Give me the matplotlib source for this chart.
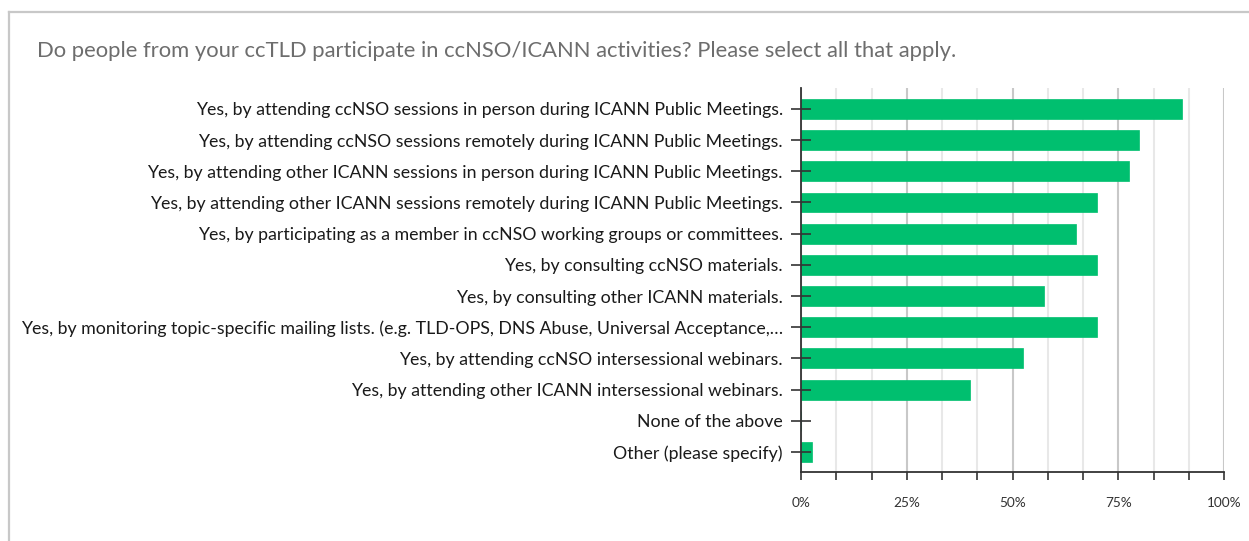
import matplotlib
matplotlib.use("Agg")
import matplotlib.pyplot as plt
from matplotlib.ticker import FixedLocator, PercentFormatter
from matplotlib.lines import Line2D

plt.rcParams['font.family'] = ['Lato', 'DejaVu Sans']

title = "Do people from your ccTLD participate in ccNSO/ICANN activities? Please select all that apply."
categories = [
    "Yes, by attending ccNSO sessions in person during ICANN Public Meetings.",
    "Yes, by attending ccNSO sessions remotely during ICANN Public Meetings.",
    "Yes, by attending other ICANN sessions in person during ICANN Public Meetings.",
    "Yes, by attending other ICANN sessions remotely during ICANN Public Meetings.",
    "Yes, by participating as a member in ccNSO working groups or committees.",
    "Yes, by consulting ccNSO materials.",
    "Yes, by consulting other ICANN materials.",
    "Yes, by monitoring topic-specific mailing lists. (e.g. TLD-OPS, DNS Abuse, Universal Acceptance,\u2026",
    "Yes, by attending ccNSO intersessional webinars.",
    "Yes, by attending other ICANN intersessional webinars.",
    "None of the above",
    "Other (please specify)",
]
values = [90.0, 80.0, 77.5, 70.0, 65.0, 70.0, 57.5, 70.0, 52.5, 40.0, 0.0, 2.5]
major_ticks = [0, 25, 50, 75, 100]
minor_ticks = [100 * i / 12 for i in range(13) if i % 3 != 0]

W, H = 1249, 541
fig = plt.figure(figsize=(W / 100, H / 100), dpi=100)

# border (top and left)
fig.add_artist(Line2D([9 / W, 1], [1 - 12 / H, 1 - 12 / H], color="#c8c8c8", lw=1.6, transform=fig.transFigure))
fig.add_artist(Line2D([9 / W, 9 / W], [0, 1 - 12 / H], color="#c8c8c8", lw=1.6, transform=fig.transFigure))

fig.text(37 / W, 1 - 51 / H, title, fontsize=15.8, color="#6d6d6d", va="center", ha="left")

left, right = 801 / W, 1224 / W
top, bottom = 1 - 88 / H, 1 - 472 / H
ax = fig.add_axes([left, bottom, right - left, top - bottom])

y = list(range(len(categories)))
ax.barh(y, values, height=0.64, color="#00BF6F", edgecolor="#00BF6F", linewidth=0.5, zorder=3)

ax.set_xlim(0, 100)
ax.set_ylim(len(categories) - 0.36, -0.67)
ax.set_yticks(y)
ax.set_yticklabels(categories, fontsize=12.75, color="#1a1a1a")
ax.xaxis.set_major_locator(FixedLocator(major_ticks))
ax.xaxis.set_minor_locator(FixedLocator(minor_ticks))
ax.xaxis.set_major_formatter(PercentFormatter(decimals=0))
ax.tick_params(axis="x", which="both", direction="out", length=6, width=1.2, color="#333333",
               labelsize=9.8, labelcolor="#333333", pad=12)
ax.tick_params(axis="y", which="both", direction="inout", length=15, width=1.2, color="#333333", pad=5.5)

ax.grid(axis="x", which="major", color="#c8c8c8", lw=1.5, zorder=0)
ax.grid(axis="x", which="minor", color="#e8e8e8", lw=1.5, zorder=0)
ax.set_axisbelow(True)
ax.yaxis.set_zorder(5)

for s in ["top", "right"]:
    ax.spines[s].set_visible(False)
for s in ["left", "bottom"]:
    ax.spines[s].set_color("#333333")
    ax.spines[s].set_linewidth(1.3)
    ax.spines[s].set_zorder(4)

fig.savefig("out.png", dpi=100, facecolor="white")
